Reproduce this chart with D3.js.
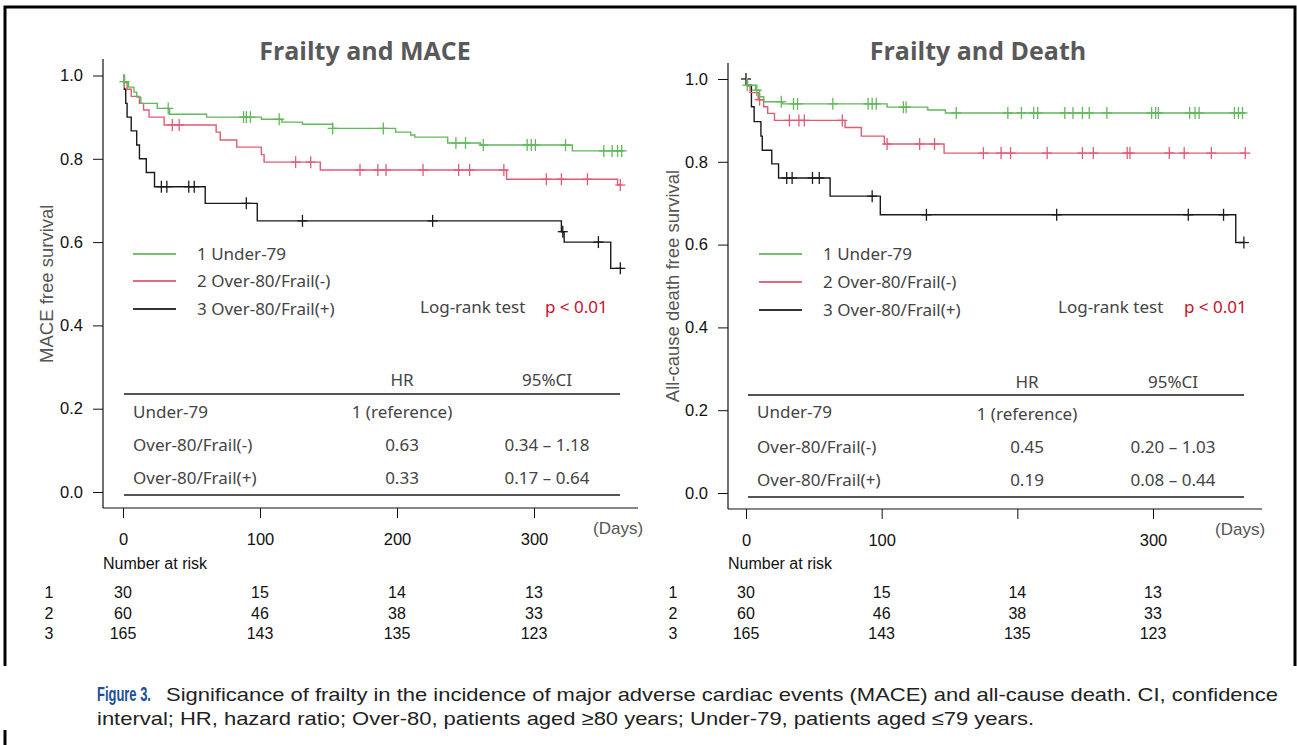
<!DOCTYPE html>
<html>
<head>
<meta charset="utf-8" />
<title>Frailty and MACE / Death</title>
<style>
  body { margin: 0; background: #fff; }
  svg text { font-family: "Liberation Sans", Arial, sans-serif; }
</style>
</head>
<body>
<script src="https://d3js.org/d3.v7.min.js"></script>
<script>

    // ---- data ----
    var groupNames = ["1 Under-79", "2 Over-80/Frail(-)", "3 Over-80/Frail(+)"];
    var curveColors = ["#62b85a", "#e05c76", "#1a1a1a"];
    var legendColors = ["#72c06a", "#e06c80", "#333333"];

    var yTicks = [0, 0.2, 0.4, 0.6, 0.8, 1.0];
    var xTicks = [0, 100, 200, 300];
    var maceXLabels = ["0", "100", "200", "300"];
    var deathXLabels = ["0", "100", "", "300"];

    // Kaplan-Meier steps [day, survival] and censor days, MACE
    var maceSteps1 = [[0, 1], [1, 0.985], [4, 0.972], [8, 0.96], [10, 0.948], [13, 0.933], [25, 0.921], [34, 0.907],
                      [61, 0.90], [101, 0.895], [116, 0.888], [131, 0.883], [153, 0.873], [199, 0.864], [210, 0.857],
                      [213, 0.852], [237, 0.838], [261, 0.833], [328, 0.819]];
    var maceCens1 = [1, 33, 88, 90, 93, 114, 153, 190, 243, 250, 263, 295, 298, 301, 323, 351, 357, 361, 364];
    var maceEnd1 = 366;

    var maceSteps2 = [[0, 1], [1, 0.983], [3, 0.967], [6, 0.95], [12, 0.933], [15, 0.917], [19, 0.90], [30, 0.881],
                      [68, 0.864], [71, 0.845], [83, 0.828], [101, 0.81], [103, 0.792], [144, 0.773], [280, 0.751],
                      [361, 0.737]];
    var maceCens2 = [36, 41, 126, 137, 173, 186, 192, 219, 245, 253, 278, 309, 320, 339, 363];
    var maceEnd2 = 364;

    var maceSteps3 = [[0, 1], [1, 0.967], [2, 0.933], [3, 0.90], [6, 0.867], [10, 0.833], [12, 0.80], [17, 0.767],
                      [23, 0.733], [60, 0.693], [98, 0.651], [320, 0.625], [322, 0.60], [356, 0.537]];
    var maceCens3 = [28, 32, 48, 52, 90, 131, 226, 321, 347, 363];
    var maceEnd3 = 364;

    // Kaplan-Meier steps, all-cause death
    var deathSteps1 = [[0, 1], [1, 0.985], [7, 0.973], [10, 0.957], [13, 0.945], [27, 0.94], [104, 0.932],
                       [134, 0.925], [147, 0.918]];
    var deathCens1 = [1, 8, 26, 35, 38, 64, 90, 93, 96, 116, 118, 155, 193, 203, 212, 215, 235, 241, 248, 253, 266,
                      299, 302, 304, 327, 331, 334, 360, 363, 366];
    var deathEnd1 = 368;

    var deathSteps2 = [[0, 1], [1, 0.983], [3, 0.967], [9, 0.95], [13, 0.933], [16, 0.917], [21, 0.90], [73, 0.883],
                       [85, 0.862], [102, 0.843], [146, 0.821]];
    var deathCens2 = [10, 32, 39, 43, 71, 104, 128, 139, 175, 188, 195, 222, 248, 256, 281, 283, 312, 323, 343, 368];
    var deathEnd2 = 368;

    var deathSteps3 = [[0, 1], [1, 0.985], [4, 0.933], [6, 0.897], [11, 0.862], [12, 0.828], [19, 0.795], [24, 0.761],
                       [62, 0.717], [99, 0.672], [361, 0.605]];
    var deathCens3 = [0, 30, 34, 49, 54, 93, 133, 229, 326, 352, 367];
    var deathEnd3 = 367;

    // number at risk
    var riskLabels = ["1", "2", "3"];
    var maceRisk1 = [30, 15, 14, 13];
    var maceRisk2 = [60, 46, 38, 33];
    var maceRisk3 = [165, 143, 135, 123];
    var deathRisk1 = [30, 15, 14, 13];
    var deathRisk2 = [60, 46, 38, 33];
    var deathRisk3 = [165, 143, 135, 123];

    // hazard ratio tables
    var tableHeader = ["HR", "95%CI"];
    var tableRows = ["Under-79", "Over-80/Frail(-)", "Over-80/Frail(+)"];
    var maceHR = ["1 (reference)", "0.63", "0.33"];
    var maceCI = ["", "0.34 \u2013 1.18", "0.17 \u2013 0.64"];
    var deathHR = ["1 (reference)", "0.45", "0.19"];
    var deathCI = ["", "0.20 \u2013 1.03", "0.08 \u2013 0.44"];

    var captionLines = [
        "Significance of frailty in the incidence of major adverse cardiac events (MACE) and all-cause death. CI, confidence",
        "interval; HR, hazard ratio; Over-80, patients aged \u226580 years; Under-79, patients aged \u226479 years."
    ];

    // ---- drawing ----
    var width = 1297;
    var height = 745;
    var uiFont = "'Noto Sans', 'Liberation Sans', sans-serif";

    var svg = d3.select("body").append("svg")
                .attr("width", width)
                .attr("height", height);

    // outer frame
    svg.append("path")
       .attr("d", "M5,666 V7 H1295 V666")
       .attr("fill", "none")
       .attr("stroke", "#000")
       .attr("stroke-width", 3);
    svg.append("line")
       .attr("x1", 5).attr("x2", 5).attr("y1", 730).attr("y2", 745)
       .attr("stroke", "#000").attr("stroke-width", 3);

    function survAt(steps, t) {
        var s = steps[0][1];
        for (var i = 0; i < steps.length; i++) {
            if (steps[i][0] <= t) s = steps[i][1];
        }
        return s;
    }

    function drawPanel(p) {
        var x = d3.scaleLinear().domain([0, 300]).range([p.x0, p.x300]);
        var y = d3.scaleLinear().domain([0, 1]).range([p.y0, p.y1]);
        var g = svg.append("g");

        g.append("text")
         .attr("x", p.titleX).attr("y", 60)
         .attr("text-anchor", "middle")
         .style("font-family", "'Open Sans', sans-serif")
         .style("font-weight", 700)
         .style("font-size", "25px")
         .attr("fill", "#595959")
         .text(p.title);

        // y axis
        var ya = g.append("g")
                  .attr("transform", "translate(" + p.axisX + ",0)")
                  .attr("color", "#111")
                  .call(d3.axisLeft(y).tickValues(yTicks).tickFormat(d3.format(".1f")).tickSize(10).tickPadding(10));
        ya.select(".domain").remove();
        ya.selectAll("text").style("font-size", "16.5px").style("font-family", "'Liberation Sans', Arial");

        g.append("line")
         .attr("x1", p.axisX).attr("x2", p.axisX)
         .attr("y1", p.axisTop).attr("y2", p.boxBottom)
         .attr("stroke", "#111").attr("stroke-width", 1.2);
        g.append("line")
         .attr("x1", p.axisX).attr("x2", p.boxRight)
         .attr("y1", p.boxBottom).attr("y2", p.boxBottom)
         .attr("stroke", "#111").attr("stroke-width", 1.2);

        // x axis ticks hanging from the box
        var xa = g.append("g")
                  .attr("transform", "translate(0," + p.boxBottom + ")")
                  .attr("color", "#111")
                  .call(d3.axisBottom(x).tickValues(xTicks).tickFormat(function(d, i) { return p.xLabels[i]; })
                          .tickSize(10).tickPadding(15));
        xa.select(".domain").remove();
        xa.selectAll("text").style("font-size", "16.5px").style("font-family", "'Liberation Sans', Arial");

        g.append("text")
         .attr("x", p.daysX).attr("y", p.boxBottom + 26)
         .style("font-size", "17px")
         .attr("fill", "#555")
         .text("(Days)");

        // y label
        g.append("text")
         .attr("transform", "translate(" + p.ylabX + "," + ((p.y0 + p.y1) / 2) + ") rotate(-90)")
         .attr("text-anchor", "middle")
         .attr("dy", "0.35em")
         .style("font-size", "18.5px")
         .attr("fill", "#555")
         .text(p.ylabel);

        // curves
        var line = d3.line()
                     .x(function(d) { return x(d[0]); })
                     .y(function(d) { return y(d[1]); })
                     .curve(d3.curveStepAfter);

        p.series.slice().reverse().forEach(function(s, r) {
            var k = p.series.length - 1 - r;
            var pts = s.steps.concat([[s.end, s.steps[s.steps.length - 1][1]]]);
            g.append("path")
             .attr("d", line(pts))
             .attr("fill", "none")
             .attr("stroke", curveColors[k])
             .attr("stroke-width", 1.4);

            var marks = g.append("g")
                         .attr("stroke", curveColors[k])
                         .attr("stroke-width", 1.3)
                         .selectAll("g")
                         .data(s.censor)
                         .join("g")
                         .attr("transform", function(d) {
                             return "translate(" + x(d) + "," + y(survAt(s.steps, d)) + ")";
                         });
            marks.append("line").attr("y1", -6).attr("y2", 6);
            marks.append("line").attr("x1", -5).attr("x2", 5);
        });

        // legend
        groupNames.forEach(function(name, i) {
            var ly = p.legendY[i];
            g.append("line")
             .attr("x1", p.legendX).attr("x2", p.legendX + 43)
             .attr("y1", ly).attr("y2", ly)
             .attr("stroke", legendColors[i]).attr("stroke-width", 2.2);
            g.append("text")
             .attr("x", p.legendX + 64).attr("y", ly)
             .attr("dy", "0.36em")
             .style("font-family", uiFont).style("font-size", "17px")
             .attr("fill", "#444")
             .text(name);
        });

        g.append("text")
         .attr("x", p.logrankX).attr("y", 307).attr("dy", "0.36em")
         .style("font-family", uiFont).style("font-size", "17px")
         .attr("fill", "#444")
         .text("Log-rank test");
        g.append("text")
         .attr("x", p.pX).attr("y", 307).attr("dy", "0.36em")
         .style("font-family", uiFont).style("font-size", "17px")
         .attr("fill", "#c8102e")
         .text("p < 0.01");

        // HR table
        var t = p.table;
        [t.ruleTop, t.ruleBottom].forEach(function(ry) {
            g.append("line")
             .attr("x1", t.x1).attr("x2", t.x2)
             .attr("y1", ry).attr("y2", ry)
             .attr("stroke", "#555").attr("stroke-width", 2);
        });
        g.append("text").attr("x", t.hrX).attr("y", t.headY).attr("dy", "0.36em")
         .attr("text-anchor", "middle").style("font-family", uiFont).style("font-size", "17px")
         .attr("fill", "#444").text(tableHeader[0]);
        g.append("text").attr("x", t.ciX).attr("y", t.headY).attr("dy", "0.36em")
         .attr("text-anchor", "middle").style("font-family", uiFont).style("font-size", "17px")
         .attr("fill", "#444").text(tableHeader[1]);
        tableRows.forEach(function(r, i) {
            var ry = t.rowY[i];
            g.append("text").attr("x", t.labelX).attr("y", ry).attr("dy", "0.36em")
             .style("font-family", uiFont).style("font-size", "17px").attr("fill", "#444").text(r);
            g.append("text").attr("x", t.hrX).attr("y", ry + (i === 0 ? t.refShift : 0)).attr("dy", "0.36em")
             .attr("text-anchor", "middle")
             .style("font-family", uiFont).style("font-size", "17px").attr("fill", "#444").text(p.hr[i]);
            g.append("text").attr("x", t.ciX).attr("y", ry).attr("dy", "0.36em")
             .attr("text-anchor", "middle")
             .style("font-family", uiFont).style("font-size", "17px").attr("fill", "#444").text(p.ci[i]);
        });

        // number at risk
        g.append("text")
         .attr("x", p.axisX).attr("y", 563).attr("dy", "0.35em")
         .style("font-size", "16px").attr("fill", "#111")
         .text("Number at risk");
        p.risk.forEach(function(row, i) {
            var ry = [592, 613, 633][i];
            g.append("text")
             .attr("x", p.riskLabelX).attr("y", ry).attr("dy", "0.35em")
             .attr("text-anchor", "middle")
             .style("font-size", "16px").attr("fill", "#111")
             .text(riskLabels[i]);
            g.selectAll(null)
             .data(row)
             .join("text")
             .attr("x", function(d, j) { return x(xTicks[j]); })
             .attr("y", ry).attr("dy", "0.35em")
             .attr("text-anchor", "middle")
             .style("font-size", "16px").attr("fill", "#111")
             .text(function(d) { return d; });
        });
    }

    drawPanel({
        title: "Frailty and MACE", titleX: 365,
        x0: 123, x300: 534, y0: 492, y1: 75.5,
        axisX: 103, axisTop: 59, boxBottom: 508, boxRight: 638,
        xLabels: maceXLabels, daysX: 593,
        ylabel: "MACE free survival", ylabX: 47,
        series: [
            {steps: maceSteps1, censor: maceCens1, end: maceEnd1},
            {steps: maceSteps2, censor: maceCens2, end: maceEnd2},
            {steps: maceSteps3, censor: maceCens3, end: maceEnd3}
        ],
        legendX: 133, legendY: [254, 281, 309],
        logrankX: 420, pX: 545,
        table: {x1: 124, x2: 620, ruleTop: 394, ruleBottom: 495, headY: 380, rowY: [412, 445, 478],
                labelX: 133, hrX: 402, ciX: 547, refShift: 0},
        hr: maceHR, ci: maceCI,
        risk: [maceRisk1, maceRisk2, maceRisk3], riskLabelX: 49
    });

    drawPanel({
        title: "Frailty and Death", titleX: 978,
        x0: 746, x300: 1153, y0: 493, y1: 79,
        axisX: 728, axisTop: 63, boxBottom: 509, boxRight: 1262,
        xLabels: deathXLabels, daysX: 1215,
        ylabel: "All-cause death free survival", ylabX: 673,
        series: [
            {steps: deathSteps1, censor: deathCens1, end: deathEnd1},
            {steps: deathSteps2, censor: deathCens2, end: deathEnd2},
            {steps: deathSteps3, censor: deathCens3, end: deathEnd3}
        ],
        legendX: 759, legendY: [254, 282, 310],
        logrankX: 1058, pX: 1184,
        table: {x1: 748, x2: 1244, ruleTop: 395, ruleBottom: 497, headY: 382, rowY: [412, 447, 480],
                labelX: 757, hrX: 1027, ciX: 1173, refShift: 2},
        hr: deathHR, ci: deathCI,
        risk: [deathRisk1, deathRisk2, deathRisk3], riskLabelX: 673
    });

    // caption
    var fig = svg.append("text")
                 .style("font-family", "'Liberation Sans Narrow', 'Liberation Sans', Arial")
                 .style("font-weight", 700)
                 .style("font-size", "21px")
                 .attr("fill", "#1b4f9c")
                 .text("Figure 3.");
    var figScale = 54 / fig.node().getComputedTextLength();
    fig.attr("transform", "translate(97,701) scale(" + figScale + ",1)");

    var cap1 = svg.append("text")
                  .attr("x", 166).attr("y", 700.5)
                  .style("font-size", "19px")
                  .attr("fill", "#222")
                  .text(captionLines[0]);
    var ratio = (1278 - 166) / cap1.node().getComputedTextLength();
    cap1.attr("textLength", 1278 - 166).attr("lengthAdjust", "spacingAndGlyphs");

    var cap2 = svg.append("text")
                  .attr("x", 97).attr("y", 724.5)
                  .style("font-size", "19px")
                  .attr("fill", "#222")
                  .text(captionLines[1]);
    cap2.attr("textLength", cap2.node().getComputedTextLength() * ratio)
        .attr("lengthAdjust", "spacingAndGlyphs");

</script>
</body>
</html>
